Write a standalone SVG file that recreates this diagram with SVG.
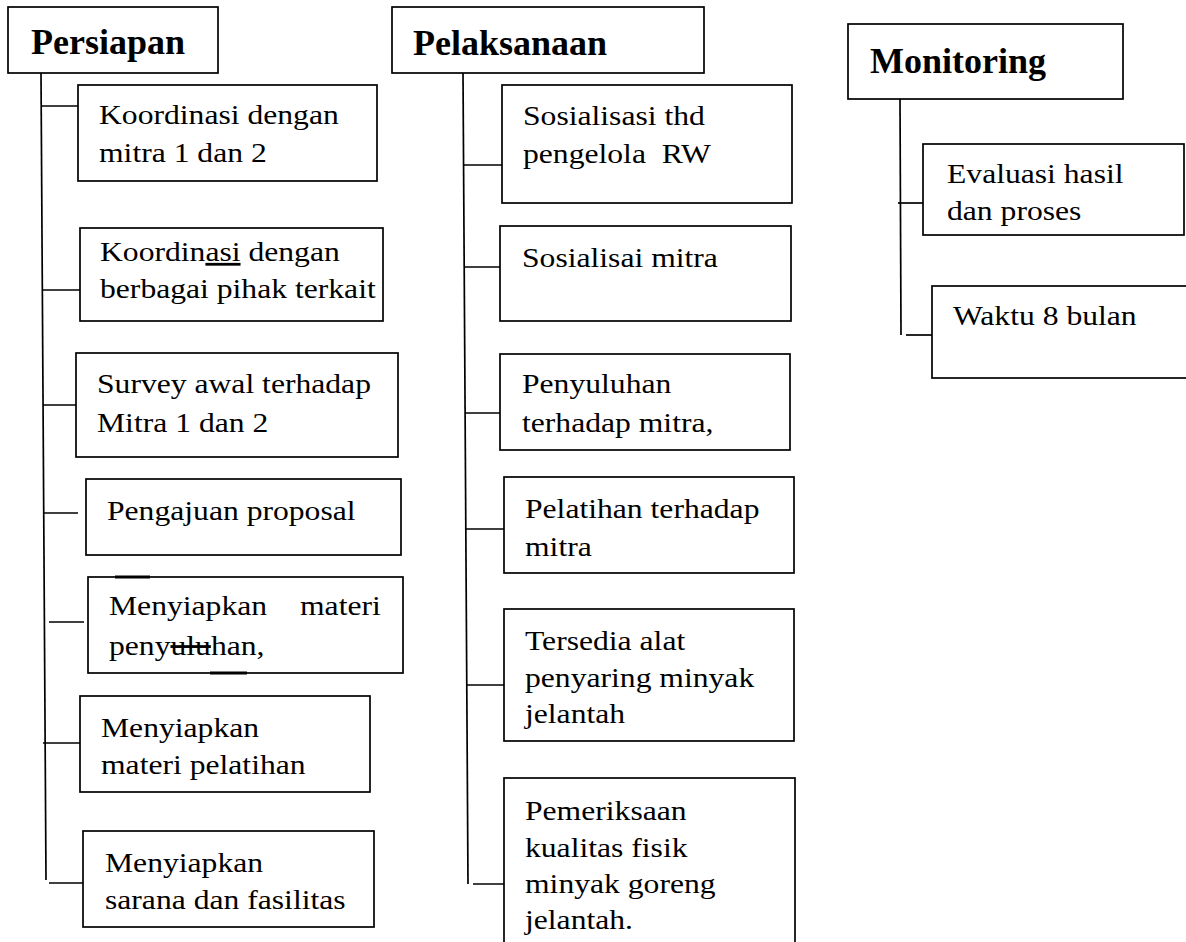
<svg xmlns="http://www.w3.org/2000/svg" width="1186" height="942" viewBox="0 0 1186 942">
<style>
.box{fill:#fff;stroke:#000;stroke-width:1.7}
.ln{stroke:#000;stroke-width:1.7;fill:none}
.t{font-family:"Liberation Serif","Times New Roman",serif;font-size:28px;fill:#000}
.h{font-family:"Liberation Serif","Times New Roman",serif;font-size:36px;font-weight:bold;fill:#000}
.mark{stroke:#000;stroke-width:3}
</style>
<rect width="1186" height="942" fill="#fff"/>
<g id="connectors">
<line class="ln" x1="41" y1="73" x2="46" y2="880"/>
<line class="ln" x1="41" y1="106" x2="78" y2="106"/>
<line class="ln" x1="42" y1="290" x2="80" y2="290"/>
<line class="ln" x1="43" y1="405" x2="78" y2="405"/>
<line class="ln" x1="43" y1="513" x2="78" y2="513"/>
<line class="ln" x1="49" y1="622" x2="84" y2="622"/>
<line class="ln" x1="43" y1="743" x2="80" y2="743"/>
<line class="ln" x1="49" y1="883" x2="83" y2="883"/>
<line class="ln" x1="463" y1="73" x2="468" y2="884"/>
<line class="ln" x1="463" y1="165" x2="502" y2="165"/>
<line class="ln" x1="464" y1="267" x2="500" y2="267"/>
<line class="ln" x1="465" y1="413" x2="500" y2="413"/>
<line class="ln" x1="465" y1="529" x2="504" y2="529"/>
<line class="ln" x1="466" y1="685" x2="504" y2="685"/>
<line class="ln" x1="473" y1="884" x2="508" y2="884"/>
<line class="ln" x1="900" y1="99" x2="901" y2="335"/>
<line class="ln" x1="898" y1="203" x2="923" y2="203"/>
<line class="ln" x1="906" y1="335" x2="932" y2="335"/>
</g>
<g id="persiapan">
<rect class="box" x="8" y="7" width="210" height="66"/>
<text class="h" x="31" y="54">Persiapan</text>
</g>
<g id="p1">
<rect class="box" x="78" y="85" width="299" height="96"/>
<text class="t" transform="translate(99,124) scale(1.13,1)"><tspan x="0" y="0">Koordinasi dengan</tspan><tspan x="0" y="38">mitra 1 dan 2</tspan></text>
</g>
<g id="p2">
<rect class="box" x="80" y="228" width="303" height="93"/>
<text class="t" transform="translate(100,261) scale(1.13,1)"><tspan x="0" y="0">Koordin<tspan text-decoration="underline">asi</tspan> dengan</tspan><tspan x="0" y="37">berbagai pihak terkait</tspan></text>
</g>
<g id="p3">
<rect class="box" x="76" y="353" width="322" height="104"/>
<text class="t" transform="translate(97,393) scale(1.13,1)"><tspan x="0" y="0">Survey awal terhadap</tspan><tspan x="0" y="39">Mitra 1 dan 2</tspan></text>
</g>
<g id="p4">
<rect class="box" x="86" y="479" width="315" height="76"/>
<text class="t" transform="translate(107,520) scale(1.13,1)">Pengajuan proposal</text>
</g>
<g id="p5">
<rect class="box" x="88" y="577" width="315" height="96"/>
<line class="mark" x1="115" y1="577" x2="150" y2="577"/>
<line class="mark" x1="210" y1="673" x2="247" y2="673"/>
<text class="t" transform="translate(109,615) scale(1.13,1)">Menyiapkan</text>
<text class="t" transform="translate(300,615) scale(1.13,1)">materi</text>
<text class="t" transform="translate(109,655) scale(1.13,1)">peny<tspan text-decoration="line-through">ulu</tspan>han,</text>
</g>
<g id="p6">
<rect class="box" x="80" y="696" width="290" height="96"/>
<text class="t" transform="translate(101,737) scale(1.13,1)"><tspan x="0" y="0">Menyiapkan</tspan><tspan x="0" y="37">materi pelatihan</tspan></text>
</g>
<g id="p7">
<rect class="box" x="83" y="831" width="291" height="96"/>
<text class="t" transform="translate(105,872) scale(1.13,1)"><tspan x="0" y="0">Menyiapkan</tspan><tspan x="0" y="37">sarana dan fasilitas</tspan></text>
</g>
<g id="pelaksanaan">
<rect class="box" x="392" y="7" width="312" height="66"/>
<text class="h" x="413" y="55">Pelaksanaan</text>
</g>
<g id="m1">
<rect class="box" x="502" y="85" width="290" height="118"/>
<text class="t" transform="translate(523,125) scale(1.13,1)" xml:space="preserve"><tspan x="0" y="0">Sosialisasi thd</tspan><tspan x="0" y="38">pengelola  RW</tspan></text>
</g>
<g id="m2">
<rect class="box" x="500" y="226" width="291" height="95"/>
<text class="t" transform="translate(522,267) scale(1.13,1)">Sosialisai mitra</text>
</g>
<g id="m3">
<rect class="box" x="500" y="354" width="290" height="96"/>
<text class="t" transform="translate(522,393) scale(1.13,1)"><tspan x="0" y="0">Penyuluhan</tspan><tspan x="0" y="39">terhadap mitra,</tspan></text>
</g>
<g id="m4">
<rect class="box" x="504" y="477" width="290" height="96"/>
<text class="t" transform="translate(525,518) scale(1.13,1)"><tspan x="0" y="0">Pelatihan terhadap</tspan><tspan x="0" y="38">mitra</tspan></text>
</g>
<g id="m5">
<rect class="box" x="504" y="609" width="290" height="132"/>
<text class="t" transform="translate(525,650) scale(1.13,1)"><tspan x="0" y="0">Tersedia alat</tspan><tspan x="0" y="37">penyaring minyak</tspan><tspan x="0" y="73">jelantah</tspan></text>
</g>
<g id="m6">
<rect class="box" x="504" y="778" width="291" height="180"/>
<text class="t" transform="translate(525,820) scale(1.13,1)"><tspan x="0" y="0">Pemeriksaan</tspan><tspan x="0" y="37">kualitas fisik</tspan><tspan x="0" y="73">minyak goreng</tspan><tspan x="0" y="109">jelantah.</tspan></text>
</g>
<g id="monitoring">
<rect class="box" x="848" y="24" width="275" height="75"/>
<text class="h" x="870" y="73">Monitoring</text>
</g>
<g id="r1">
<rect class="box" x="923" y="144" width="261" height="91"/>
<text class="t" transform="translate(947,183) scale(1.13,1)"><tspan x="0" y="0">Evaluasi hasil</tspan><tspan x="0" y="37">dan proses</tspan></text>
</g>
<g id="r2">
<rect class="box" x="932" y="286" width="270" height="92"/>
<text class="t" transform="translate(953,325) scale(1.13,1)">Waktu 8 bulan</text>
</g>
</svg>
